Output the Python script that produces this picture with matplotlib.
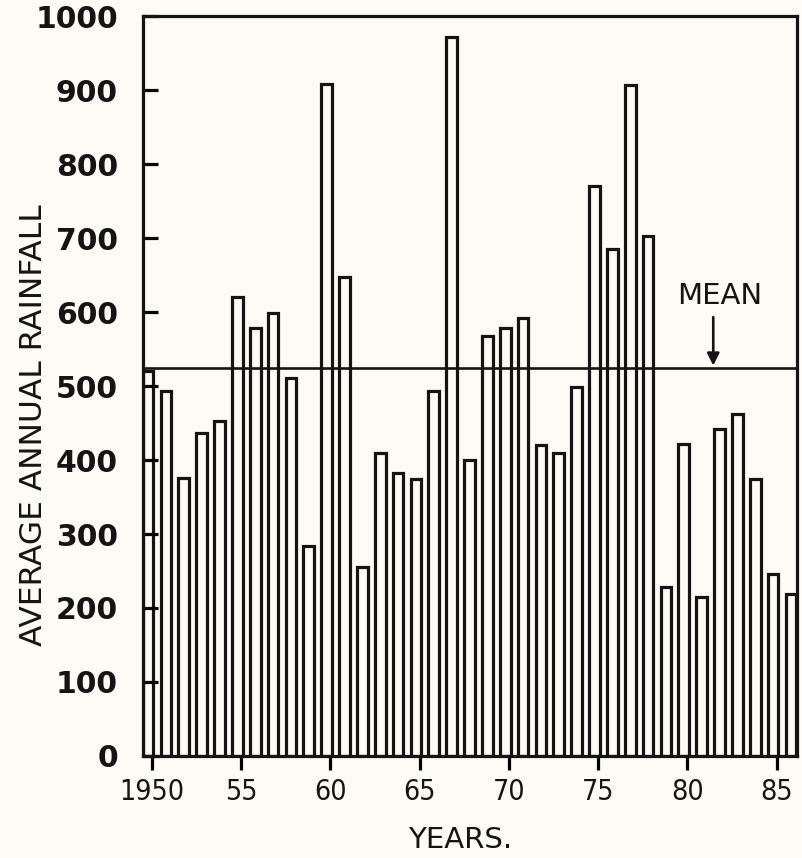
import numpy as np
import matplotlib.pyplot as plt

# one bar per year
years = np.arange(1950, 1987)
rainfall = [520, 493, 376, 436, 453, 620, 578, 599, 511, 284,
            909, 647, 255, 409, 382, 375, 494, 972, 400, 568,
            578, 592, 420, 410, 499, 771, 685, 907, 703, 228,
            422, 215, 442, 462, 375, 246, 219]
mean_rainfall = 524

x_ticks = [1950, 1955, 1960, 1965, 1970, 1975, 1980, 1985]
x_tick_labels = ['1950', '55', '60', '65', '70', '75', '80', '85']
y_ticks = list(range(0, 1001, 100))

ink = '#161412'
paper = '#fcfbf6'

fig = plt.figure(figsize=(8.02, 8.58), dpi=100, facecolor=paper)
ax = fig.add_axes([0.178, 0.119, 0.816, 0.862], facecolor=paper)

ax.bar(years - 0.2, rainfall, width=0.6, color=paper, edgecolor=ink, linewidth=2.3)
ax.axhline(mean_rainfall, color=ink, linewidth=1.9)

# MEAN label with arrow pointing down to the line
ax.annotate('', xy=(1981.45, mean_rainfall), xytext=(1981.45, 597),
            arrowprops=dict(arrowstyle='-|>', color=ink, lw=1.9, mutation_scale=18))
ax.text(1981.8, 622, 'MEAN', ha='center', va='center', fontsize=21, color=ink)

ax.set_xlim(1949.5, 1986.15)
ax.set_ylim(0, 1000)
ax.set_xticks(x_ticks)
ax.set_xticklabels(x_tick_labels, fontsize=20.5, fontstretch='condensed', color=ink)
ax.set_yticks(y_ticks)
ax.set_yticklabels([str(v) for v in y_ticks], fontsize=21.5, fontweight='bold', color=ink)

ax.tick_params(axis='y', direction='in', length=11, width=2.3, pad=18)
ax.tick_params(axis='x', direction='out', length=10, width=2.3, pad=6)
for side in ax.spines.values():
    side.set_linewidth(2.3)
    side.set_color(ink)

fig.text(0.042, 1 - 425 / 858, 'AVERAGE ANNUAL RAINFALL', rotation=90, ha='center', va='center',
         fontsize=22.5, color=ink)
fig.text(460 / 802, 1 - 840 / 858, 'YEARS.', ha='center', va='center',
         fontsize=21, color=ink)

fig.savefig('out.png', dpi=100, facecolor=paper)
